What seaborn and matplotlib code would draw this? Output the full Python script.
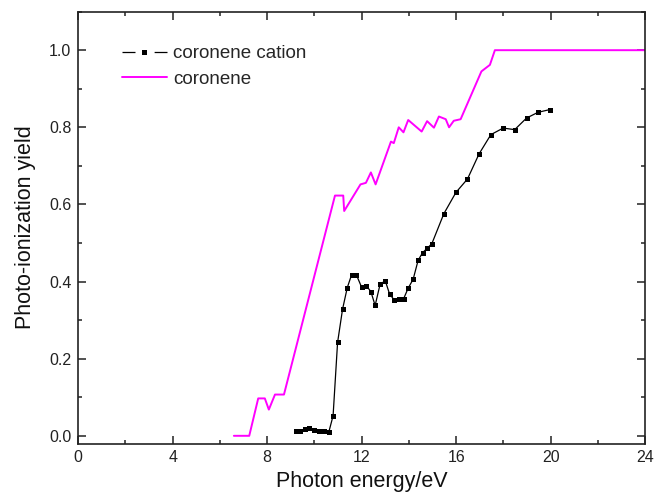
import numpy as np
import pandas as pd
import seaborn as sns
import matplotlib
matplotlib.use('Agg')
import matplotlib.pyplot as plt
from matplotlib.lines import Line2D
from matplotlib.ticker import MultipleLocator

# Data
cation_energy = [9.21, 9.38, 9.60, 9.78, 9.99, 10.20, 10.40, 10.61, 10.79, 10.98,
                 11.19, 11.39, 11.57, 11.78, 12.00, 12.20, 12.39, 12.57, 12.78, 13.00,
                 13.18, 13.38, 13.59, 13.78, 13.97, 14.18, 14.39, 14.58, 14.77, 14.97,
                 15.48, 15.99, 16.48, 16.97, 17.47, 17.99, 18.48, 18.98, 19.47, 19.97]
cation_yield = [0.012, 0.012, 0.017, 0.021, 0.015, 0.013, 0.012, 0.010, 0.052, 0.242,
                0.328, 0.384, 0.417, 0.417, 0.385, 0.389, 0.374, 0.338, 0.393, 0.402,
                0.368, 0.352, 0.355, 0.356, 0.383, 0.406, 0.455, 0.475, 0.486, 0.498,
                0.576, 0.631, 0.666, 0.731, 0.781, 0.798, 0.794, 0.824, 0.839, 0.846]

neutral_energy = [6.59, 7.24, 7.62, 7.90, 8.07, 8.33, 8.71, 10.87, 11.22, 11.26,
                  11.95, 12.18, 12.39, 12.59, 13.24, 13.36, 13.57, 13.77, 13.97, 14.54,
                  14.77, 15.06, 15.27, 15.56, 15.70, 15.90, 16.19, 17.07, 17.43, 17.64,
                  24.0]
neutral_yield = [0.0, 0.0, 0.097, 0.097, 0.068, 0.107, 0.107, 0.623, 0.623, 0.583,
                 0.652, 0.656, 0.683, 0.652, 0.763, 0.759, 0.800, 0.787, 0.819, 0.789,
                 0.816, 0.799, 0.828, 0.821, 0.800, 0.817, 0.821, 0.945, 0.962, 1.0,
                 1.0]

x_ticks = [0, 4, 8, 12, 16, 20, 24]
y_ticks = [0.0, 0.2, 0.4, 0.6, 0.8, 1.0]

sns.set_style('ticks')
plt.rcParams['font.family'] = ['Liberation Sans', 'DejaVu Sans']
plt.rcParams['xtick.direction'] = 'in'
plt.rcParams['ytick.direction'] = 'in'

cation = pd.DataFrame({'energy': cation_energy, 'yield': cation_yield})
neutral = pd.DataFrame({'energy': neutral_energy, 'yield': neutral_yield})

fig = plt.figure(figsize=(6.63, 4.97), dpi=100)
ax = fig.add_axes([0.118, 0.1076, 0.855, 0.869])

sns.lineplot(data=neutral, x='energy', y='yield', sort=False, color='#ff00ff',
             linewidth=1.4, ax=ax)
sns.lineplot(data=cation, x='energy', y='yield', sort=False, color='black',
             linewidth=0.9, marker='s', markersize=3.6, markeredgewidth=0, ax=ax)

ax.set_xlim(0, 24)
ax.set_ylim(-0.02, 1.10)
ax.set_xticks(x_ticks)
ax.set_xticklabels([str(t) for t in x_ticks])
ax.set_yticks(y_ticks)
ax.set_yticklabels(['%.1f' % t for t in y_ticks])
ax.xaxis.set_minor_locator(MultipleLocator(2))
ax.yaxis.set_minor_locator(MultipleLocator(0.1))
ax.tick_params(which='both', top=True, right=True, direction='in', width=1.1,
               labelsize=11.5, colors='#222222', labelcolor='#222222')
ax.tick_params(which='major', length=5.5, pad=5)
ax.tick_params(which='minor', length=2.8)
for s in ax.spines.values():
    s.set_linewidth(1.2)
    s.set_color('#222222')

ax.set_xlabel('Photon energy/eV', fontsize=15.5, labelpad=4, color='#111111')
ax.set_ylabel('Photo-ionization yield', fontsize=15.5, labelpad=9, color='#111111')

# Origin-style legend handle: short dash, gap, square, gap, short dash
handles = [
    Line2D([], [], color='black', linewidth=0.9, linestyle=(0, (10.4, 15.3)),
           marker='s', markersize=3.6, markeredgewidth=0),
    Line2D([], [], color='#ff00ff', linewidth=1.4),
]
ax.legend(handles, ['coronene cation', 'coronene'], loc='upper left',
          bbox_to_anchor=(0.0765, 0.922), borderaxespad=0, borderpad=0,
          frameon=False, fontsize=13.5, handlelength=2.4, handletextpad=0.35,
          labelspacing=0.45)

fig.savefig('out.png', dpi=100)
